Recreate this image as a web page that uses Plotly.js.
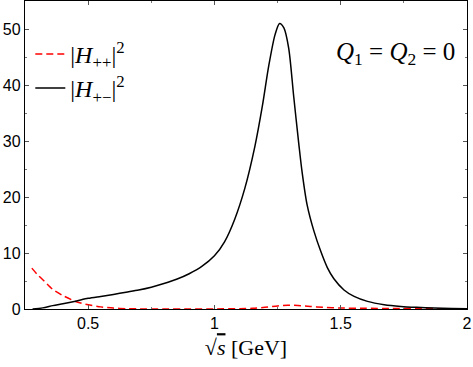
<!DOCTYPE html>
<html>
<head>
<meta charset="utf-8">
<script src="https://cdn.plot.ly/plotly-3.0.1.min.js"></script>
<style>
  html, body { margin: 0; padding: 0; background: #fff; }
  #chart { width: 473px; height: 367px; }
</style>
</head>
<body>
<div id="chart"></div>
<script>
// sqrt(s) in GeV and helicity amplitudes squared
const sqrtSPP = [0.277, 0.30, 0.33, 0.36, 0.40, 0.45, 0.50, 0.55, 0.60, 0.65, 0.70, 0.80, 0.90,
                 1.00, 1.10, 1.15, 1.20, 1.25, 1.29, 1.33, 1.38, 1.43, 1.50, 1.60, 1.70, 1.80, 1.90, 2.00];
const hPP = [7.3, 6.1, 4.8, 3.5, 2.4, 1.35, 0.75, 0.38, 0.16, 0.06, 0.02, 0.0, 0.0,
             0.02, 0.05, 0.12, 0.3, 0.55, 0.68, 0.62, 0.45, 0.3, 0.18, 0.12, 0.1, 0.08, 0.06, 0.05];

const sqrtSPM = [0.28, 0.32, 0.36, 0.40, 0.45, 0.50, 0.55, 0.60, 0.65, 0.70, 0.75, 0.80, 0.85, 0.90,
                 0.95, 1.00, 1.04, 1.08, 1.12, 1.16, 1.19, 1.215, 1.24, 1.258, 1.275, 1.294, 1.314,
                 1.334, 1.347, 1.367, 1.394, 1.421, 1.447, 1.473, 1.513, 1.553, 1.606, 1.672, 1.738,
                 1.80, 1.87, 1.94, 2.00];
const hPM = [0.0, 0.2, 0.6, 0.95, 1.4, 1.9, 2.25, 2.6, 3.0, 3.4, 3.9, 4.55, 5.3, 6.3,
             7.6, 9.5, 12.0, 16.0, 21.5, 29.0, 36.3, 43.4, 49.0, 51.0, 50.2, 46.6, 37.9,
             29.5, 24.5, 18.6, 13.9, 10.3, 7.4, 5.4, 3.4, 2.25, 1.36, 0.77, 0.46,
             0.3, 0.18, 0.1, 0.05];

const xTicks = [0.5, 1, 1.5, 2];
const xTickText = ['0.5', '1', '1.5', '2'];
const yTicks = [0, 10, 20, 30, 40, 50];

const serif = '"Liberation Serif", "DejaVu Serif", serif';
const sans = '"Liberation Sans", Arial, sans-serif';

const traces = [
  {
    x: sqrtSPP, y: hPP, type: 'scatter', mode: 'lines',
    name: '|<i>H</i><sub>++</sub>|<sup>2</sup>',
    line: { color: '#ff0000', width: 1.5, dash: '7px,4px', shape: 'spline', smoothing: 0.6 }
  },
  {
    x: sqrtSPM, y: hPM, type: 'scatter', mode: 'lines',
    name: '|<i>H</i><sub>+−</sub>|<sup>2</sup>',
    line: { color: '#000000', width: 1.5, shape: 'spline', smoothing: 0.8 }
  }
];

const axisCommon = {
  showline: true, mirror: 'ticks', linecolor: '#000', linewidth: 1.2,
  ticks: 'inside', ticklen: 4, tickcolor: '#555', tickwidth: 1,
  showgrid: false, zeroline: false,
  tickfont: { family: sans, size: 16, color: '#000' }
};

const layout = {
  width: 473, height: 367,
  margin: { l: 25, r: 6, t: 1, b: 58 },
  paper_bgcolor: '#fff', plot_bgcolor: '#fff',
  showlegend: true,
  legend: {
    x: 0.012, y: 0.9, xanchor: 'left', yanchor: 'top',
    bgcolor: 'rgba(0,0,0,0)', borderwidth: 0,
    font: { family: serif, size: 24, color: '#000' }
  },
  xaxis: Object.assign({}, axisCommon, {
    range: [0.25, 2], tickvals: xTicks, ticktext: xTickText,
    minor: { dtick: 0.25, ticks: 'inside', ticklen: 2, tickcolor: '#777' },
    title: { text: '√<span style="text-decoration:overline"><i>s</i></span> [GeV]',
             font: { family: serif, size: 22, color: '#000' }, standoff: 8 }
  }),
  yaxis: Object.assign({}, axisCommon, {
    range: [0, 55], tickvals: yTicks,
    minor: { dtick: 5, ticks: 'inside', ticklen: 2, tickcolor: '#777' }
  }),
  annotations: [
    {
      xref: 'paper', yref: 'paper', x: 0.978, y: 0.83, xanchor: 'right', yanchor: 'middle',
      text: '<i>Q</i><sub>1</sub> = <i>Q</i><sub>2</sub> = 0', showarrow: false,
      font: { family: serif, size: 25, color: '#000' }
    }
  ]
};

Plotly.newPlot('chart', traces, layout, { displayModeBar: false, staticPlot: true });
</script>
</body>
</html>
